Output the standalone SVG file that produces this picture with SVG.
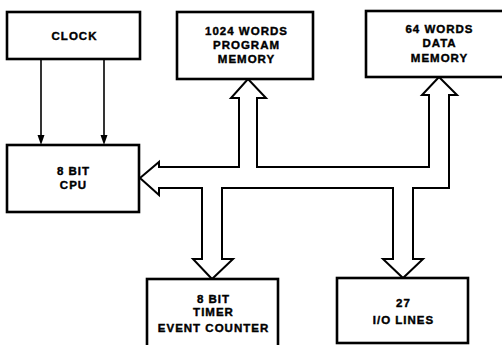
<svg xmlns="http://www.w3.org/2000/svg" width="502" height="345" viewBox="0 0 502 345">
<style>
.box{fill:#fff;stroke:#000;stroke-width:2.6}
.t{font-family:"Liberation Sans",Arial,sans-serif;font-weight:bold;font-size:11.5px;letter-spacing:1px;text-anchor:middle;fill:#000;stroke:#000;stroke-width:0.4}
.bus{fill:none;stroke:#000;stroke-width:2;stroke-linejoin:miter}
.w{fill:none;stroke:#000;stroke-width:1.6}
</style>
<rect width="502" height="345" fill="#fff"/>
<g id="connectors">
<line class="w" x1="41" y1="59" x2="41" y2="135"/>
<path d="M37.5,135 L44.5,135 L41,145 Z" fill="#000"/>
<line class="w" x1="104" y1="59" x2="104" y2="135"/>
<path d="M100.5,135 L107.5,135 L104,145 Z" fill="#000"/>
<path class="bus" d="M239,167 L239,98 L231,98 L248,79 L266,98 L257,98 L257,167 L429,167 L429,95 L422,95 L439,77 L457,95 L449,95 L449,188 L413,188 L413,259 L423,259 L403,278 L383,259 L393,259 L393,188 L222,188 L222,259 L233,259 L212,279 L193,259 L202,259 L202,188 L159,188 L159,195 L140,178 L159,162 L159,167 Z"/>
</g>
<g id="clock">
<rect class="box" x="7" y="12" width="133" height="47"/>
<text class="t" x="74.5" y="40">CLOCK</text>
</g>
<g id="cpu">
<rect class="box" x="7" y="145" width="132" height="67"/>
<text class="t" x="73.5" y="175">8 BIT</text>
<text class="t" x="73.5" y="189">CPU</text>
</g>
<g id="program-memory">
<rect class="box" x="177" y="12" width="136" height="67"/>
<text class="t" x="246.5" y="35">1024 WORDS</text>
<text class="t" x="246.5" y="49">PROGRAM</text>
<text class="t" x="246.5" y="63">MEMORY</text>
</g>
<g id="data-memory">
<rect class="box" x="366" y="11" width="140" height="66"/>
<text class="t" x="439.5" y="32.5">64 WORDS</text>
<text class="t" x="439.5" y="47">DATA</text>
<text class="t" x="439.5" y="61.5">MEMORY</text>
</g>
<g id="timer">
<rect class="box" x="147" y="279" width="131" height="70"/>
<text class="t" x="213.5" y="303">8 BIT</text>
<text class="t" x="213.5" y="316">TIMER</text>
<text class="t" x="213.5" y="332">EVENT COUNTER</text>
</g>
<g id="io-lines">
<rect class="box" x="337" y="278" width="131" height="65"/>
<text class="t" x="403.5" y="307">27</text>
<text class="t" x="403.5" y="324">I/O LINES</text>
</g>
</svg>
